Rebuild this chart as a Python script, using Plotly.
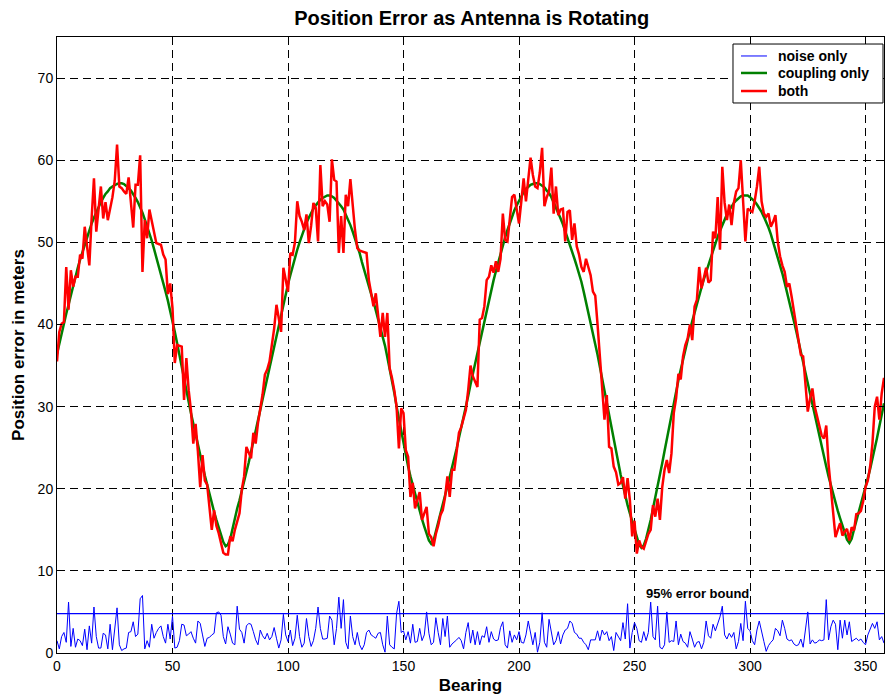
import plotly.graph_objects as go

# Bearing in degrees, one sample per degree
bearing = list(range(0, 359))

# Position error caused by receiver noise alone (m)
noise_only = [
    1.5, 0.5, 2.0, 2.5, 1.3, 6.2, 0.8, 3.0, 0.7, 1.7,
    1.5, 0.9, 2.9, 0.4, 3.3, 1.2, 5.6, 2.0, 0.6, 0.6,
    2.4, 2.2, 0.5, 3.5, 0.4, 3.0, 5.5, 1.0, 0.3, 0.5,
    0.6, 2.5, 2.6, 3.8, 2.0, 2.3, 6.6, 7.0, 0.5, 1.5,
    0.7, 3.5, 1.8, 2.5, 3.0, 3.3, 2.0, 1.2, 3.5, 1.7,
    4.5, 0.6, 0.7, 1.5, 3.5, 3.4, 2.1, 2.3, 2.6, 1.8,
    1.2, 3.9, 3.6, 2.2, 0.8, 1.8, 1.9, 2.2, 2.4, 4.9,
    5.0, 4.6, 2.0, 1.1, 3.2, 2.3, 1.2, 1.0, 5.7, 2.9,
    2.5, 1.2, 3.3, 3.6, 3.5, 2.6, 1.6, 1.0, 2.8, 2.1,
    1.7, 2.4, 1.6, 2.0, 3.1, 1.8, 0.6, 1.6, 4.7, 2.2,
    1.4, 2.8, 0.9, 1.8, 4.6, 2.0, 0.7, 1.2, 4.2, 2.0,
    0.8, 1.5, 3.0, 5.6, 3.0, 1.7, 1.7, 1.8, 4.5, 4.0,
    1.0, 3.0, 6.8, 3.0, 6.5, 1.3, 0.5, 4.5, 2.0, 1.0,
    2.5, 1.0, 0.4, 1.0, 2.5, 2.8, 2.2, 2.0, 1.8, 2.4,
    2.5, 1.0, 0.1, 4.5, 1.0, 0.7, 0.5, 4.8, 6.3, 2.5,
    2.7, 1.6, 2.6, 1.2, 3.5, 1.3, 1.4, 3.0, 1.5, 2.2,
    5.0, 2.4, 1.0, 1.3, 4.3, 2.5, 1.0, 4.2, 2.0, 4.5,
    0.7, 1.1, 1.3, 1.6, 1.9, 1.5, 0.5, 2.5, 3.7, 1.2,
    2.8, 1.0, 2.6, 1.0, 2.1, 1.9, 3.2, 1.3, 2.6, 1.7,
    1.5, 1.6, 3.1, 3.8, 1.0, 0.6, 2.7, 1.3, 2.2, 1.6,
    2.6, 1.3, 1.2, 2.2, 3.9, 2.6, 1.0, 2.5, 0.1, 1.3,
    4.9, 1.3, 0.7, 4.1, 2.5, 1.0, 1.5, 2.6, 1.1, 2.2,
    2.8, 3.0, 3.9, 3.6, 2.5, 2.3, 1.8, 1.8, 1.3, 1.0,
    0.4, 1.6, 1.6, 1.6, 2.7, 1.5, 2.8, 2.2, 2.6, 1.5,
    2.0, 0.3, 2.5, 2.0, 1.5, 3.7, 1.7, 6.0, 0.6, 2.5,
    3.7, 3.0, 1.5, 1.3, 2.6, 1.5, 2.5, 6.2, 2.0, 1.6,
    5.7, 0.7, 0.5, 1.0, 5.0, 1.3, 1.5, 1.4, 3.9, 1.0,
    2.3, 1.4, 1.2, 0.7, 2.6, 1.7, 0.7, 1.3, 1.4, 0.5,
    1.3, 3.9, 2.1, 1.8, 3.5, 2.7, 3.5, 4.4, 5.7, 2.2,
    1.7, 2.4, 1.9, 2.5, 0.5, 1.4, 3.6, 1.5, 6.3, 3.0,
    2.7, 1.5, 1.0, 2.8, 3.9, 2.5, 1.4, 0.2, 0.9, 1.3,
    1.6, 3.0, 2.7, 2.1, 4.0, 3.0, 1.7, 1.5, 1.6, 1.1,
    0.9, 1.0, 1.7, 0.7, 2.6, 5.0, 1.1, 1.6, 1.2, 1.3,
    1.6, 1.5, 1.6, 6.5, 1.6, 3.2, 4.0, 3.5, 0.4, 4.0,
    1.8, 4.0, 2.2, 3.8, 1.4, 1.6, 1.8, 1.5, 1.7, 1.3,
    1.0, 2.2, 2.8, 3.6, 3.0, 3.8, 1.6, 2.0, 1.2,
]

# Position error caused by antenna coupling alone (m)
coupling_only = [
    36.4, 37.7, 38.9, 40.1, 41.3, 42.4, 43.6, 44.7, 45.8, 46.9,
    47.9, 48.8, 49.8, 50.7, 51.5, 52.3, 53.0, 53.7, 54.3, 54.9,
    55.4, 55.9, 56.2, 56.6, 56.8, 57.0, 57.1, 57.2, 57.2, 57.1,
    56.9, 56.6, 56.3, 55.9, 55.4, 54.9, 54.3, 53.6, 52.8, 52.0,
    51.1, 50.2, 49.2, 48.2, 47.3, 46.2, 45.1, 44.0, 42.9, 41.7,
    40.4, 39.1, 37.7, 36.2, 34.8, 33.4, 32.0, 30.6, 29.2, 27.9,
    26.5, 25.2, 24.0, 22.8, 21.6, 20.5, 19.3, 18.3, 17.2, 16.2,
    15.3, 14.3, 13.5, 13.0, 13.2, 13.9, 15.2, 16.5, 17.6, 18.6,
    19.7, 20.9, 22.0, 23.2, 24.5, 25.7, 27.0, 28.3, 29.6, 30.9,
    32.2, 33.6, 34.9, 36.2, 37.5, 38.8, 40.1, 41.3, 42.6, 43.8,
    44.9, 46.0, 47.1, 48.1, 49.1, 50.0, 50.9, 51.6, 52.4, 53.0,
    53.6, 54.1, 54.5, 54.9, 55.2, 55.4, 55.6, 55.7, 55.7, 55.6,
    55.4, 55.1, 54.8, 54.4, 54.0, 53.4, 52.8, 52.1, 51.3, 50.5,
    49.6, 48.7, 47.6, 46.6, 45.5, 44.4, 43.7, 42.8, 41.7, 40.8,
    39.7, 38.6, 37.4, 36.0, 34.7, 33.2, 31.7, 30.0, 28.5, 26.9,
    25.3, 23.9, 22.7, 21.5, 20.4, 19.3, 18.2, 17.2, 16.3, 15.4,
    14.5, 13.7, 13.3, 13.7, 14.8, 16.0, 17.1, 18.2, 19.2, 20.3,
    21.4, 22.6, 23.7, 24.9, 26.2, 27.4, 28.8, 30.0, 31.3, 32.7,
    34.0, 35.3, 36.6, 37.9, 39.2, 40.5, 41.8, 43.0, 44.2, 45.4,
    46.5, 47.6, 48.7, 49.6, 50.6, 51.5, 52.4, 53.1, 53.9, 54.5,
    55.1, 55.6, 56.1, 56.5, 56.8, 57.0, 57.1, 57.2, 57.2, 57.1,
    56.9, 56.7, 56.3, 56.0, 55.5, 54.9, 54.3, 53.6, 52.9, 52.2,
    51.4, 50.6, 49.8, 48.9, 48.0, 47.1, 46.2, 45.2, 44.0, 42.8,
    41.6, 40.4, 39.0, 37.6, 36.3, 34.8, 33.5, 32.0, 30.5, 29.0,
    27.5, 26.0, 24.5, 23.1, 21.7, 20.4, 19.1, 18.0, 17.0, 16.0,
    15.1, 14.1, 13.2, 12.8, 13.1, 13.9, 15.0, 16.2, 17.6, 18.9,
    20.2, 21.6, 23.1, 24.6, 26.1, 27.6, 29.1, 30.6, 31.9, 33.2,
    34.5, 35.8, 37.0, 38.2, 39.3, 40.4, 41.5, 42.5, 43.5, 44.5,
    45.5, 46.4, 47.4, 48.2, 49.1, 49.9, 50.7, 51.4, 52.1, 52.7,
    53.4, 53.9, 54.4, 54.8, 55.1, 55.4, 55.6, 55.7, 55.7, 55.7,
    55.5, 55.3, 55.0, 54.6, 54.2, 53.7, 53.1, 52.5, 51.8, 51.0,
    50.1, 49.2, 48.3, 47.3, 46.2, 45.1, 44.0, 42.8, 41.6, 40.4,
    39.2, 37.9, 36.6, 35.3, 34.0, 32.8, 31.5, 30.2, 28.9, 27.6,
    26.3, 25.1, 23.9, 22.7, 21.5, 20.4, 19.3, 18.3, 17.3, 16.4,
    15.5, 14.6, 13.8, 13.4, 13.9, 15.0, 16.0, 17.0, 18.1, 19.2,
    20.2, 21.3, 22.4, 23.6, 24.7, 26.2, 27.6, 29.0, 30.4,
]

# Position error with coupling and noise together (m)
both = [
    35.5, 39.1, 40.1, 40.3, 47.0, 41.8, 46.6, 44.6, 45.8, 45.8,
    48.5, 48.0, 51.9, 49.5, 47.2, 53.0, 57.8, 51.3, 54.0, 56.8,
    52.9, 54.9, 52.7, 54.0, 55.5, 57.5, 61.9, 56.8, 56.6, 56.2,
    55.9, 57.9, 55.0, 51.8, 57.0, 57.0, 60.6, 46.4, 52.7, 50.5,
    54.0, 52.5, 51.0, 49.9, 49.8, 49.7, 48.5, 47.9, 43.7, 45.0,
    42.0, 35.3, 37.5, 37.4, 37.3, 30.8, 35.9, 32.0, 29.5, 25.5,
    27.9, 24.5, 20.2, 24.1, 21.0, 20.5, 18.0, 15.0, 17.4, 15.5,
    14.6, 13.5, 12.2, 12.0, 12.0, 14.2, 13.6, 15.0, 16.0, 17.0,
    19.9, 21.5, 25.1, 24.5, 23.7, 26.8, 25.5, 28.0, 29.6, 31.5,
    33.9, 34.5, 35.5, 37.5, 39.5, 42.4, 40.5, 39.1, 46.9, 45.4,
    44.0, 48.7, 48.5, 50.0, 55.0, 53.2, 52.5, 51.5, 53.4, 49.9,
    52.0, 54.8, 54.2, 50.1, 59.4, 54.4, 55.0, 54.6, 52.5, 60.1,
    57.6, 57.4, 48.7, 53.2, 48.7, 55.8, 54.4, 57.7, 54.0, 51.5,
    49.3, 49.0, 48.9, 48.8, 48.7, 45.4, 43.8, 42.2, 43.8, 41.0,
    38.5, 41.4, 38.5, 41.4, 34.7, 33.5, 32.0, 30.0, 24.9, 29.8,
    29.2, 24.7, 23.9, 19.0, 20.7, 17.6, 18.5, 19.6, 16.2, 17.0,
    17.8, 14.5, 14.1, 13.0, 14.5, 15.5, 16.8, 17.4, 19.0, 21.5,
    19.0, 22.3, 22.3, 24.5, 26.8, 27.5, 28.4, 29.6, 32.0, 35.0,
    33.7, 33.0, 32.4, 40.6, 40.8, 42.2, 45.4, 45.8, 47.2, 46.3,
    47.7, 46.4, 48.0, 53.5, 50.3, 50.1, 52.5, 55.5, 55.8, 54.0,
    52.3, 55.0, 57.8, 55.0, 57.8, 60.3, 58.2, 56.8, 56.6, 58.5,
    61.5, 54.4, 55.5, 56.2, 59.1, 53.5, 56.8, 53.3, 54.0, 54.1,
    50.1, 53.7, 53.9, 50.3, 52.3, 49.5, 48.5, 47.0, 46.4, 48.0,
    47.0, 46.0, 44.0, 43.5, 40.0, 36.0, 33.0, 28.4, 31.4, 25.1,
    24.9, 22.7, 22.0, 20.5, 20.7, 21.4, 18.8, 21.3, 18.6, 14.2,
    16.1, 12.1, 13.7, 12.9, 12.7, 13.7, 14.5, 15.0, 18.0, 16.6,
    18.8, 16.2, 20.2, 22.3, 23.5, 21.9, 24.3, 29.2, 31.0, 34.0,
    33.3, 36.1, 37.5, 38.3, 40.0, 38.1, 42.2, 43.0, 47.0, 44.4,
    45.5, 46.9, 45.1, 45.4, 51.3, 50.5, 55.5, 49.1, 59.2, 54.8,
    52.7, 54.6, 52.1, 54.8, 56.2, 56.6, 60.0, 55.6, 50.1, 54.1,
    53.9, 53.7, 55.0, 56.8, 59.2, 55.0, 53.5, 53.1, 53.5, 51.9,
    52.5, 53.3, 50.1, 48.3, 47.2, 46.4, 44.6, 45.0, 43.4, 41.6,
    40.2, 38.5, 36.3, 36.1, 33.0, 29.4, 31.0, 32.2, 30.0, 28.8,
    27.5, 26.5, 26.1, 27.7, 23.0, 20.2, 16.6, 14.1, 15.0, 15.8,
    14.3, 14.8, 15.1, 13.7, 15.3, 14.9, 16.9, 17.0, 17.3, 18.5,
    20.2, 21.0, 22.7, 25.5, 30.0, 31.2, 28.4, 31.6, 33.5,
]

# 95% bound of the noise-only error (m)
error_bound = 4.8

x_ticks = [0, 50, 100, 150, 200, 250, 300, 350]
y_ticks = [0, 10, 20, 30, 40, 50, 60, 70]

series_names = ["noise only", "coupling only", "both"]
series_colors = ["#0000ff", "#008000", "#ff0000"]
series_widths = [1, 2.5, 2.5]

FONT = "Liberation Sans, Arial, Helvetica, sans-serif"

fig = go.Figure()

for name, values, color, width in zip(
    series_names, [noise_only, coupling_only, both], series_colors, series_widths
):
    fig.add_trace(go.Scatter(
        x=bearing, y=values, mode="lines", name=name,
        line=dict(color=color, width=width), showlegend=False,
    ))

# Horizontal 95% error bound across the full bearing range
fig.add_shape(
    type="line", xref="paper", x0=0, x1=1, yref="y",
    y0=error_bound, y1=error_bound,
    line=dict(color="#0000ff", width=1.2),
)
fig.add_annotation(
    x=254, y=error_bound + 2.4, xref="x", yref="y",
    text="95% error bound", showarrow=False,
    xanchor="left", yanchor="middle",
    font=dict(family=FONT, size=13, color="#000000", weight="bold"),
)

# Boxed key in the upper-right corner of the axes
key_left, key_right = 0.8174, 0.9988
key_top, key_bottom = 0.9886, 0.8929
key_rows = [0.9692, 0.9416, 0.9123]
fig.add_shape(
    type="rect", xref="paper", yref="paper",
    x0=key_left, x1=key_right, y0=key_bottom, y1=key_top,
    line=dict(color="#000000", width=1), fillcolor="#ffffff", layer="above",
)
for name, color, width, row in zip(series_names, series_colors, series_widths, key_rows):
    fig.add_shape(
        type="line", xref="paper", yref="paper",
        x0=0.8271, x1=0.8585, y0=row, y1=row,
        line=dict(color=color, width=width), layer="above",
    )
    fig.add_annotation(
        x=0.8694, y=row, xref="paper", yref="paper",
        text=name, showarrow=False, xanchor="left", yanchor="middle",
        font=dict(family=FONT, size=14, color="#000000", weight="bold"),
    )

axis_common = dict(
    showline=True, linecolor="#000000", linewidth=1, mirror="allticks",
    ticks="inside", ticklen=5, tickcolor="#000000", tickwidth=1,
    showgrid=True, gridcolor="#000000", gridwidth=1, griddash="8px,5px",
    zeroline=False,
    tickfont=dict(family=FONT, size=14, color="#000000"),
)

fig.update_xaxes(
    range=[0, 358], tickvals=x_ticks,
    title=dict(text="Bearing", standoff=6,
               font=dict(family=FONT, size=17, color="#000000", weight="bold")),
    **axis_common,
)
fig.update_yaxes(
    range=[0, 75], tickvals=y_ticks,
    title=dict(text="Position error in meters", standoff=8,
               font=dict(family=FONT, size=17, color="#000000", weight="bold")),
    **axis_common,
)

fig.update_layout(
    width=885, height=700,
    margin=dict(l=57, r=1, t=37, b=47),
    paper_bgcolor="#ffffff", plot_bgcolor="#ffffff",
    title=dict(
        text="Position Error as Antenna is Rotating",
        x=0.533, xanchor="center", y=0.974, yanchor="middle",
        font=dict(family=FONT, size=20, color="#000000", weight="bold"),
    ),
    showlegend=False,
)

fig.write_html("out.html")
